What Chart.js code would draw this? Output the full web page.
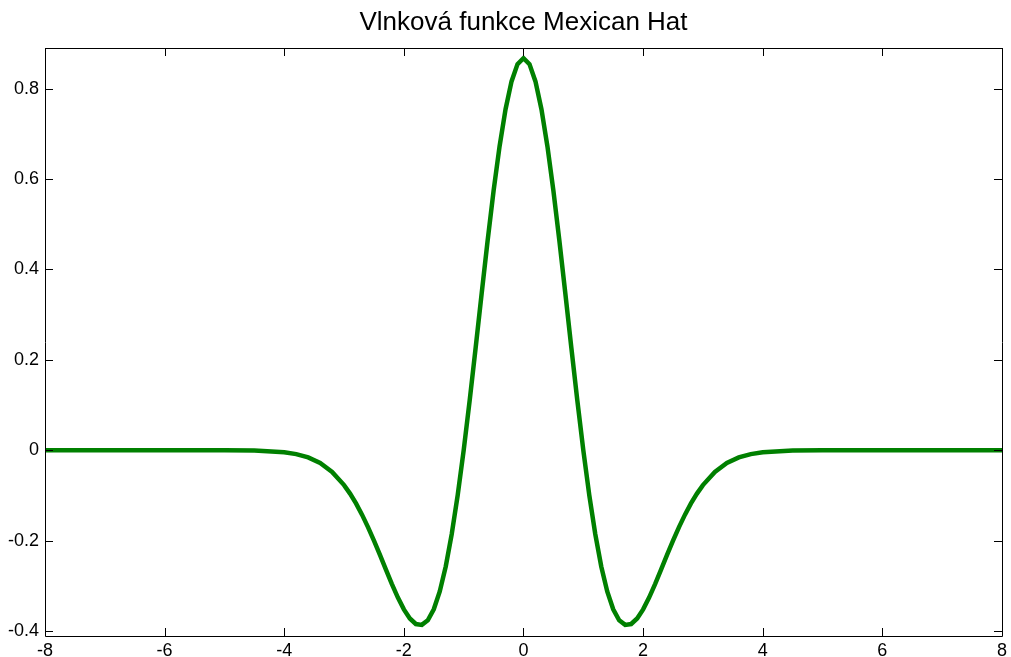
<!DOCTYPE html>
<html>
<head>
<meta charset="utf-8">
<script src="https://cdn.jsdelivr.net/npm/chart.js@4/dist/chart.umd.min.js"></script>
<style>
html,body{margin:0;padding:0;background:#fff;}
#wrap{width:1011px;height:657px;position:relative;}
</style>
</head>
<body>
<div id="wrap"><canvas id="c"></canvas></div>
<script>
// Data
const xValues = [-8,-7,-6,-5,-4.5,-4,-3.8,-3.6,-3.4,-3.2,-3,-2.9,-2.8,-2.7,-2.6,-2.5,-2.4,-2.3,-2.2,-2.1,-2,-1.9,-1.8,-1.7,-1.6,-1.5,-1.4,-1.3,-1.2,-1.1,-1,-0.9,-0.8,-0.7,-0.6,-0.5,-0.4,-0.3,-0.2,-0.1,0,
  0.1,0.2,0.3,0.4,0.5,0.6,0.7,0.8,0.9,1,1.1,1.2,1.3,1.4,1.5,1.6,1.7,1.8,1.9,2,2.1,2.2,2.3,2.4,2.5,2.6,2.7,2.8,2.9,3,3.2,3.4,3.6,3.8,4,4.5,5,6,7,8];
const yValues = [0,0,0,-0.0001,-0.0007,-0.0044,-0.0085,-0.0159,-0.0283,-0.0479,-0.0771,-0.0959,-0.1177,-0.1425,-0.1701,-0.2001,-0.2317,-0.2642,-0.2961,-0.3261,-0.3521,-0.3723,-0.3845,-0.3864,-0.3762,-0.3520,-0.3125,-0.2571,-0.1857,-0.0995,0,0.1099,0.2267,0.3462,0.4636,0.5740,0.6725,0.7545,0.8161,0.8543,0.8673,
  0.8543,0.8161,0.7545,0.6725,0.5740,0.4636,0.3462,0.2267,0.1099,0,-0.0995,-0.1857,-0.2571,-0.3125,-0.3520,-0.3762,-0.3864,-0.3845,-0.3723,-0.3521,-0.3261,-0.2961,-0.2642,-0.2317,-0.2001,-0.1701,-0.1425,-0.1177,-0.0959,-0.0771,-0.0479,-0.0283,-0.0159,-0.0085,-0.0044,-0.0007,-0.0001,0,0,0];
const xTicks = [-8,-6,-4,-2,0,2,4,6,8];
const yTicks = [-0.4,-0.2,0,0.2,0.4,0.6,0.8];
const titleText = 'Vlnková funkce Mexican Hat';

const points = xValues.map((x,i)=>({x:x,y:yValues[i]}));

const framePlugin = {
  id:'frame',
  afterDraw(chart){
    const {ctx, chartArea:a, scales} = chart;
    ctx.save();
    ctx.strokeStyle = '#000';
    ctx.lineWidth = 1;
    ctx.beginPath();
    ctx.rect(Math.round(a.left)+0.5, Math.round(a.top)+0.5, Math.round(a.right-a.left), Math.round(a.bottom-a.top));
    ctx.stroke();
    const L = 8;
    ctx.beginPath();
    xTicks.forEach(v=>{
      const px = Math.round(scales.x.getPixelForValue(v))+0.5;
      ctx.moveTo(px, a.bottom); ctx.lineTo(px, a.bottom-L);
      ctx.moveTo(px, a.top); ctx.lineTo(px, a.top+L);
    });
    yTicks.forEach(v=>{
      const py = Math.round(scales.y.getPixelForValue(v))+0.5;
      ctx.moveTo(a.left, py); ctx.lineTo(a.left+L, py);
      ctx.moveTo(a.right, py); ctx.lineTo(a.right-L, py);
    });
    ctx.stroke();
    ctx.restore();
  }
};

new Chart(document.getElementById('c'), {
  type:'line',
  data:{datasets:[{data:points, borderColor:'rgb(0,128,0)', borderWidth:4.5, pointRadius:0, tension:0, fill:false}]},
  options:{
    responsive:true, maintainAspectRatio:false, animation:false,
    layout:{padding:{left:0,right:7,top:0,bottom:0}},
    plugins:{
      legend:{display:false}, tooltip:{enabled:false},
      title:{display:true, fullSize:false, text:titleText, color:'#000', font:{family:'Liberation Sans, Arial, sans-serif', size:26, weight:'normal'}, padding:{top:7,bottom:9.8}}
    },
    scales:{
      x:{type:'linear', min:-8, max:8,
        afterBuildTicks(s){ s.ticks = xTicks.map(v=>({value:v})); },
        afterFit(s){ s.height = 21; },
        grid:{display:false, drawTicks:false}, border:{display:false},
        ticks:{color:'#000', padding:4, maxRotation:0, autoSkip:false, font:{family:'Liberation Sans, Arial, sans-serif', size:18}, callback:v=>String(v)}
      },
      y:{type:'linear', min:-0.411, max:0.89,
        afterBuildTicks(s){ s.ticks = yTicks.map(v=>({value:v})); },
        afterFit(s){ s.width = 45; },
        grid:{display:false, drawTicks:false}, border:{display:false},
        ticks:{color:'#000', padding:6, autoSkip:false, font:{family:'Liberation Sans, Arial, sans-serif', size:18}, callback:v=>String(+Number(v).toFixed(1))}
      }
    }
  },
  plugins:[framePlugin]
});
</script>
</body>
</html>
